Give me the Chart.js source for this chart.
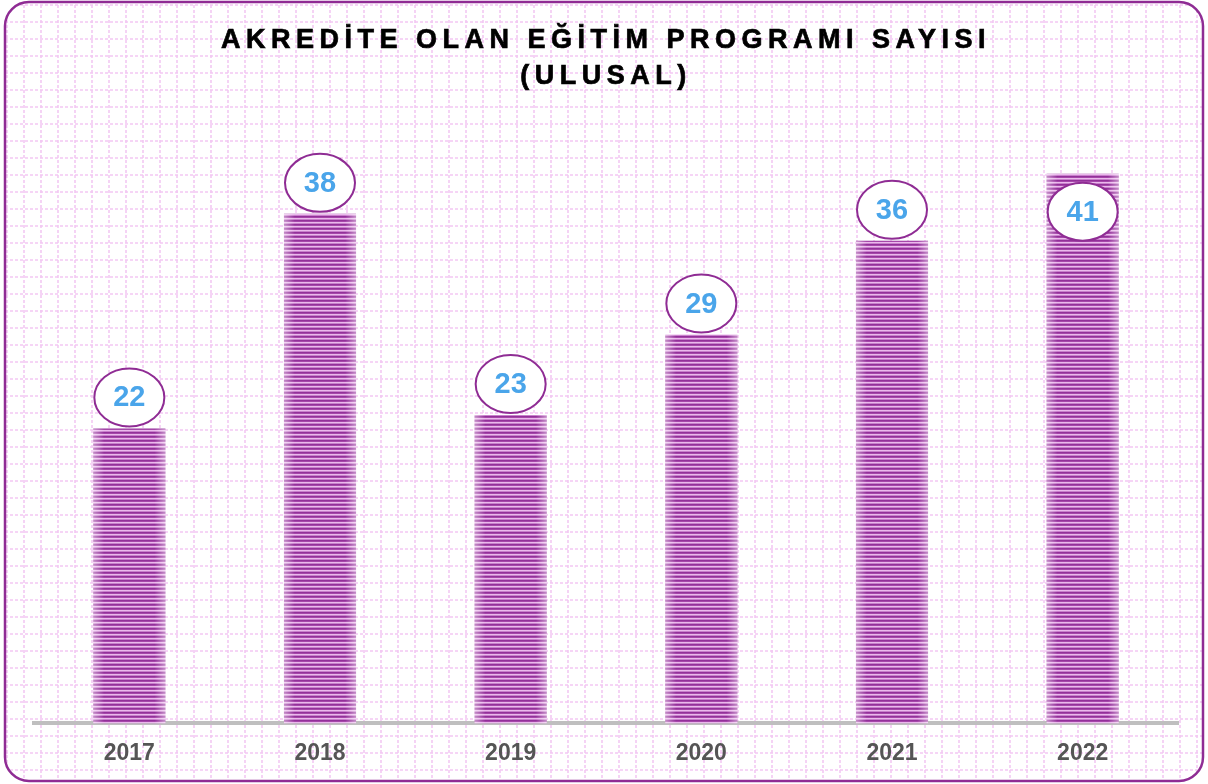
<!DOCTYPE html>
<html>
<head>
<meta charset="utf-8">
<script src="https://cdn.jsdelivr.net/npm/chart.js@4.4.0/dist/chart.umd.min.js"></script>
<style>
  html, body { margin: 0; padding: 0; background: #fff; overflow: hidden; }
  #akrediteChart { display: block; }
</style>
</head>
<body>
<canvas id="akrediteChart" width="1208" height="784"></canvas>
<script>
const years = ['2017', '2018', '2019', '2020', '2021', '2022'];
const programCounts = [22, 38, 23, 29, 36, 41];
const titleLines = ['AKREDİTE OLAN EĞİTİM PROGRAMI SAYISI', '(ULUSAL)'];
const yMax = 45;

function makeStripePattern() {
    const c = document.createElement('canvas');
    c.width = 4;
    c.height = 4;
    const g = c.getContext('2d');
    const rows = ['#93309a', '#a647aa', '#eab9ec', '#c880cb'];
    rows.forEach(function (col, i) {
        g.fillStyle = col;
        g.fillRect(0, i, 4, 1);
    });
    return g.createPattern(c, 'repeat');
}

function roundRectPath(ctx, x, y, w, h, r) {
    ctx.beginPath();
    ctx.moveTo(x + r, y);
    ctx.lineTo(x + w - r, y);
    ctx.arcTo(x + w, y, x + w, y + r, r);
    ctx.lineTo(x + w, y + h - r);
    ctx.arcTo(x + w, y + h, x + w - r, y + h, r);
    ctx.lineTo(x + r, y + h);
    ctx.arcTo(x, y + h, x, y + h - r, r);
    ctx.lineTo(x, y + r);
    ctx.arcTo(x, y, x + r, y, r);
    ctx.closePath();
}

// paper background with dotted pink grid and rounded frame
const paperBackground = {
    id: 'paperBackground',
    beforeDraw(chart) {
        const ctx = chart.ctx;
        const w = chart.width, h = chart.height;
        ctx.save();
        ctx.fillStyle = '#ffffff';
        ctx.fillRect(0, 0, w, h);
        roundRectPath(ctx, 5, 2, w - 10, h - 5, 24);
        ctx.clip();
        ctx.strokeStyle = '#f3c8f3';
        ctx.lineWidth = 1.6;
        ctx.setLineDash([3, 2]);
        ctx.beginPath();
        for (let x = 7; x < w; x += 17) {
            ctx.moveTo(x, 0);
            ctx.lineTo(x, h);
        }
        for (let y = 5; y < h; y += 17) {
            ctx.moveTo(0, y);
            ctx.lineTo(w, y);
        }
        ctx.stroke();
        ctx.restore();

        // title
        ctx.save();
        ctx.fillStyle = '#000000';
        ctx.strokeStyle = '#000000';
        ctx.lineWidth = 0.7;
        ctx.font = 'bold 27px "Liberation Sans", Arial, sans-serif';
        ctx.textAlign = 'center';
        ctx.textBaseline = 'alphabetic';
        ctx.letterSpacing = '5.5px';
        titleLines.forEach(function (line, i) {
            ctx.fillText(line, w / 2 + 2, 48 + i * 36);
            ctx.strokeText(line, w / 2 + 2, 48 + i * 36);
        });
        ctx.restore();
    },
    afterDraw(chart) {
        const ctx = chart.ctx;
        ctx.save();
        roundRectPath(ctx, 5, 2, chart.width - 10, chart.height - 5, 24);
        ctx.strokeStyle = '#8f2c94';
        ctx.lineWidth = 2.5;
        ctx.stroke();
        ctx.restore();
    }
};

// soft light edges on each bar + ellipse value labels
const barLabels = {
    id: 'barLabels',
    afterDatasetsDraw(chart) {
        const ctx = chart.ctx;
        const area = chart.chartArea;
        const meta = chart.getDatasetMeta(0);
        meta.data.forEach(function (bar, i) {
            const left = bar.x - bar.width / 2;
            const top = bar.y;
            const hgt = bar.base - bar.y;
            const grad = ctx.createLinearGradient(left, 0, left + bar.width, 0);
            grad.addColorStop(0, 'rgba(255,255,255,0.45)');
            grad.addColorStop(0.15, 'rgba(255,255,255,0)');
            grad.addColorStop(0.85, 'rgba(255,255,255,0)');
            grad.addColorStop(1, 'rgba(255,255,255,0.45)');
            ctx.save();
            ctx.fillStyle = grad;
            ctx.fillRect(left, top, bar.width, hgt);
            ctx.restore();

            let cy = bar.y - 31;
            if (cy - 29 < area.top) {
                cy = bar.y + 38;
            }
            ctx.save();
            ctx.beginPath();
            ctx.ellipse(bar.x, cy, 35, 29, 0, 0, Math.PI * 2);
            ctx.fillStyle = '#ffffff';
            ctx.fill();
            ctx.lineWidth = 2;
            ctx.strokeStyle = '#8f2c94';
            ctx.stroke();
            ctx.fillStyle = '#4aa5ea';
            ctx.font = 'bold 29px "Liberation Sans", Arial, sans-serif';
            ctx.textAlign = 'center';
            ctx.textBaseline = 'middle';
            ctx.fillText(String(programCounts[i]), bar.x, cy + 1);
            ctx.restore();
        });
    }
};

const ctxEl = document.getElementById('akrediteChart');
new Chart(ctxEl, {
    type: 'bar',
    data: {
        labels: years,
        datasets: [{
            label: 'Program Sayısı',
            data: programCounts,
            backgroundColor: makeStripePattern(),
            borderWidth: 0,
            categoryPercentage: 1,
            barPercentage: 0.378
        }]
    },
    options: {
        responsive: false,
        animation: false,
        layout: {
            padding: { left: 34, right: 30, top: 120, bottom: 1 }
        },
        plugins: {
            legend: { display: false },
            title: { display: false },
            tooltip: { enabled: false }
        },
        scales: {
            x: {
                grid: { display: false, drawTicks: false },
                border: { display: true, color: '#bfbfbf', width: 4 },
                ticks: {
                    color: '#555555',
                    padding: 16,
                    font: { family: '"Liberation Sans", Arial, sans-serif', size: 23, weight: 'bold' }
                }
            },
            y: {
                display: false,
                min: 0,
                max: yMax
            }
        }
    },
    plugins: [paperBackground, barLabels]
});
</script>
</body>
</html>
